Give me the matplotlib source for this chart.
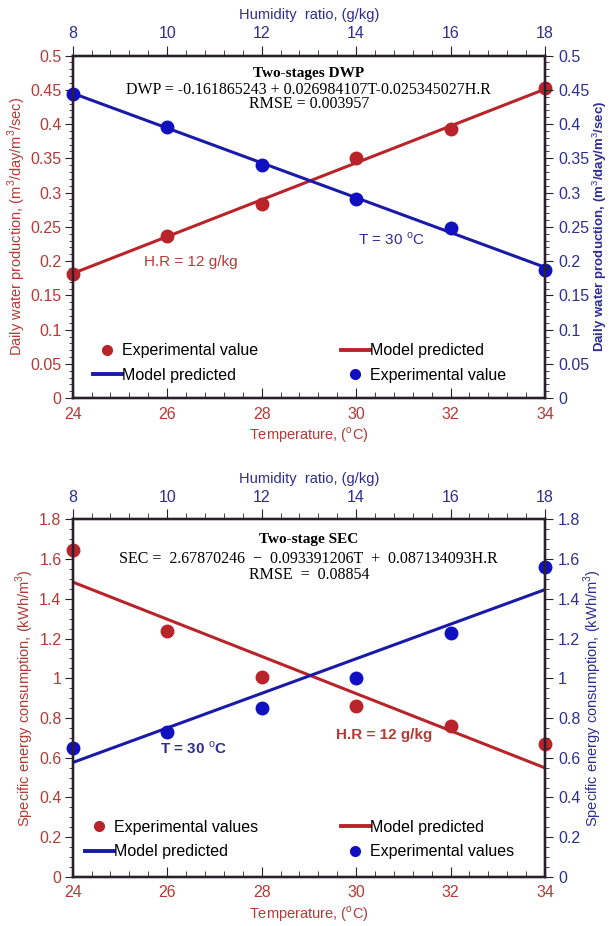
import matplotlib
matplotlib.use('Agg')
import matplotlib.pyplot as plt
from matplotlib.lines import Line2D
from matplotlib.ticker import MultipleLocator, AutoMinorLocator, FuncFormatter

plt.rcParams['font.family'] = ['Liberation Sans', 'DejaVu Sans']
plt.rcParams['mathtext.fontset'] = 'custom'
plt.rcParams['mathtext.rm'] = 'Liberation Sans'
plt.rcParams['mathtext.bf'] = 'Liberation Sans:bold'

RED = '#b8242a'
RED_TXT = '#b33a35'
BLUE = '#1a1aa8'
BLUE_TXT = '#2e2e8f'
SPINE = '#2b1f2a'

# data
temp = [24, 26, 28, 30, 32, 34]
hr = [8, 10, 12, 14, 16, 18]
model_temp = [24, 34]
model_hr = [8, 18]

dwp_temp = [0.181, 0.237, 0.284, 0.350, 0.393, 0.452]
dwp_hr = [0.444, 0.396, 0.340, 0.291, 0.249, 0.187]
dwp_model_temp = [0.182, 0.451]
dwp_model_hr = [0.445, 0.191]

sec_temp = [1.647, 1.238, 1.009, 0.860, 0.762, 0.667]
sec_hr = [0.648, 0.731, 0.851, 1.001, 1.230, 1.560]
sec_model_temp = [1.485, 0.549]
sec_model_hr = [0.576, 1.447]

fmt = FuncFormatter(lambda v, p: f'{v:g}')


def panel(rect, y_red, y_blue, m_red, m_blue, ymax, ystep, yminor, ylabel,
          right_bold, title, eq, rmse, text_y, exp_label, red_note, blue_note,
          note_bold, leg_y):
    ax = fig.add_axes(rect)
    ax.set_xlim(24, 34)
    ax.set_ylim(0, ymax)
    ax_top = ax.twiny()
    ax_top.set_xlim(8, 18)
    ax_right = ax.twinx()
    ax_right.set_ylim(0, ymax)

    ax.plot(model_temp, m_red, color=RED, lw=2.2, zorder=2)
    ax.plot(temp, y_red, 'o', color=RED, ms=9, zorder=3, clip_on=False)
    ax_top.plot(model_hr, m_blue, color=BLUE, lw=2.2, zorder=2)
    ax_top.plot(hr, y_blue, 'o', color='#1010c0', ms=9, zorder=3, clip_on=False)
    ax_top.set_ylim(0, ymax)

    ax.xaxis.set_major_locator(MultipleLocator(2))
    ax.xaxis.set_minor_locator(AutoMinorLocator(5))
    ax_top.xaxis.set_major_locator(MultipleLocator(2))
    ax_top.xaxis.set_minor_locator(AutoMinorLocator(5))
    for a in (ax, ax_right):
        a.yaxis.set_major_locator(MultipleLocator(ystep))
        a.yaxis.set_minor_locator(AutoMinorLocator(yminor))
        a.yaxis.set_major_formatter(fmt)

    ax.tick_params(axis='x', which='both', direction='in', colors=SPINE,
                   labelcolor=RED_TXT, labelsize=11.5, pad=6)
    ax.tick_params(axis='x', which='major', length=7)
    ax.tick_params(axis='x', which='minor', length=4)
    ax.tick_params(axis='y', which='both', direction='out', colors=SPINE,
                   labelcolor=RED_TXT, labelsize=11.5, pad=2)
    ax.tick_params(axis='y', which='major', length=6)
    ax.tick_params(axis='y', which='minor', length=3)
    ax_top.tick_params(axis='x', which='both', direction='out', colors=SPINE,
                       labelcolor=BLUE_TXT, labelsize=11.5)
    ax_top.tick_params(axis='x', which='major', length=7)
    ax_top.tick_params(axis='x', which='minor', length=4)
    ax_right.tick_params(axis='y', which='both', direction='out', colors=SPINE,
                         labelcolor=BLUE_TXT, labelsize=11.5)
    ax_right.tick_params(axis='y', which='major', length=6)
    ax_right.tick_params(axis='y', which='minor', length=3)
    ax_top.tick_params(axis='y', which='both', left=False, right=False,
                       labelleft=False, labelright=False)

    for a in (ax, ax_top, ax_right):
        for s in a.spines.values():
            s.set_color(SPINE)
            s.set_linewidth(1.6)

    ax.set_xlabel('Temperature, ($^{\\mathrm{o}}$C)', color=RED_TXT, fontsize=10.5, labelpad=3)
    ax_top.set_xlabel('Humidity  ratio, (g/kg)', color=BLUE_TXT, fontsize=10.5, labelpad=5)
    ax.set_ylabel(ylabel, color=RED_TXT, fontsize=10.5, labelpad=2)
    ax_right.set_ylabel(ylabel, color=BLUE_TXT, fontsize=9.5 if right_bold else 10.5,
                        labelpad=1, rotation=90,
                        fontweight='bold' if right_bold else 'normal')

    ax_top.text(0.5, text_y[0], title, transform=ax.transAxes, ha='center', va='center',
                family=['Liberation Serif'], fontweight='bold', fontsize=11)
    ax_top.text(0.5, text_y[1], eq, transform=ax.transAxes, ha='center', va='center',
                family=['Liberation Serif'], fontsize=11.5)
    ax_top.text(0.5, text_y[2], rmse, transform=ax.transAxes, ha='center', va='center',
                family=['Liberation Serif'], fontsize=11.5)

    w = 'bold' if note_bold else 'normal'
    ax_top.text(red_note[0], red_note[1], 'H.R = 12 g/kg', transform=ax.transData,
                ha='center', va='center', color=RED_TXT, fontsize=11, fontweight=w)
    ax_top.text(blue_note[0], blue_note[1], 'T = 30 $^{\\mathrm{o}}$C', transform=ax.transData,
                ha='center', va='center', color=BLUE_TXT, fontsize=11, fontweight=w)

    handles = [
        Line2D([], [], ls='none', marker='o', color=RED, ms=7),
        Line2D([], [], color=BLUE, lw=2.8),
        Line2D([], [], color=RED, lw=2.8),
        Line2D([], [], ls='none', marker='o', color='#1010c0', ms=7),
    ]
    labels = [exp_label, 'Model predicted', 'Model predicted', exp_label]
    ax_top.legend(handles, labels, ncol=2, loc='center', bbox_to_anchor=(0.48, leg_y),
                  bbox_transform=ax.transAxes, frameon=False, fontsize=11.5,
                  handlelength=1.8, handletextpad=0.0, columnspacing=5.2,
                  labelspacing=0.6)


fig = plt.figure(figsize=(6.11, 9.26), dpi=100)

panel([0.119, 0.570, 0.773, 0.370], dwp_temp, dwp_hr, dwp_model_temp, dwp_model_hr,
      0.5, 0.05, 5, 'Daily water production, (m$^3$/day/m$^3$/sec)', True,
      'Two-stages DWP', 'DWP = -0.161865243 + 0.026984107T-0.025345027H.R',
      'RMSE = 0.003957', (0.948, 0.9, 0.858), 'Experimental value',
      (26.5, 0.199), (30.75, 0.232), False, 0.103)

panel([0.119, 0.053, 0.773, 0.386], sec_temp, sec_hr, sec_model_temp, sec_model_hr,
      1.8, 0.2, 4, 'Specific energy consumption, (kWh/m$^3$)', False,
      'Two-stage SEC', 'SEC =  2.67870246  \u2212  0.093391206T  +  0.087134093H.R',
      'RMSE  =  0.08854', (0.944, 0.889, 0.845), 'Experimental values',
      (30.6, 0.715), (26.55, 0.65), True, 0.105)

fig.savefig('out.png', dpi=100)
